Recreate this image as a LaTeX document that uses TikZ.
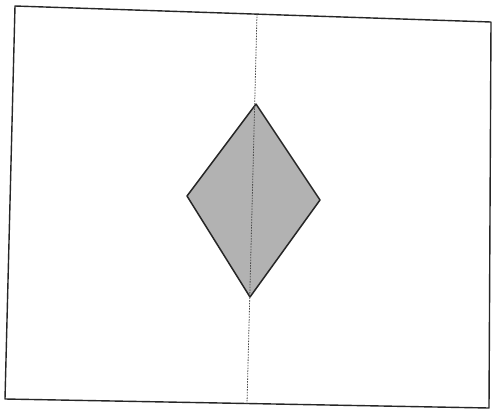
\documentclass[tikz,border=0pt]{standalone}
\begin{document}
\begin{tikzpicture}[x=1pt,y=-1pt,
  frame/.style={draw=black!85,line width=1.4pt,line join=round},
  axisline/.style={draw=black!70,line width=0.8pt,dash pattern=on 1.5pt off 1.2pt},
  kite/.style={draw=black!85,line width=1.5pt,fill=black!30,line join=round}]
\useasboundingbox (0,0) rectangle (493,413);
\fill[white] (0,0) rectangle (493,413);
\coordinate (tl) at (15,6);
\coordinate (tr) at (491,22);
\coordinate (br) at (489,408);
\coordinate (bl) at (5,399);
\draw[frame] (tl) -- (tr) -- (br) -- (bl) -- cycle;
\coordinate (dtop) at (256,104);
\coordinate (dleft) at (187,196);
\coordinate (dright) at (320,200);
\coordinate (dbot) at (250,297);
\draw[kite] (dtop) -- (dright) -- (dbot) -- (dleft) -- cycle;
\coordinate (atop) at (257,14);
\coordinate (abot) at (247,404);
\draw[axisline] (atop) -- (abot);
\end{tikzpicture}
\end{document}
